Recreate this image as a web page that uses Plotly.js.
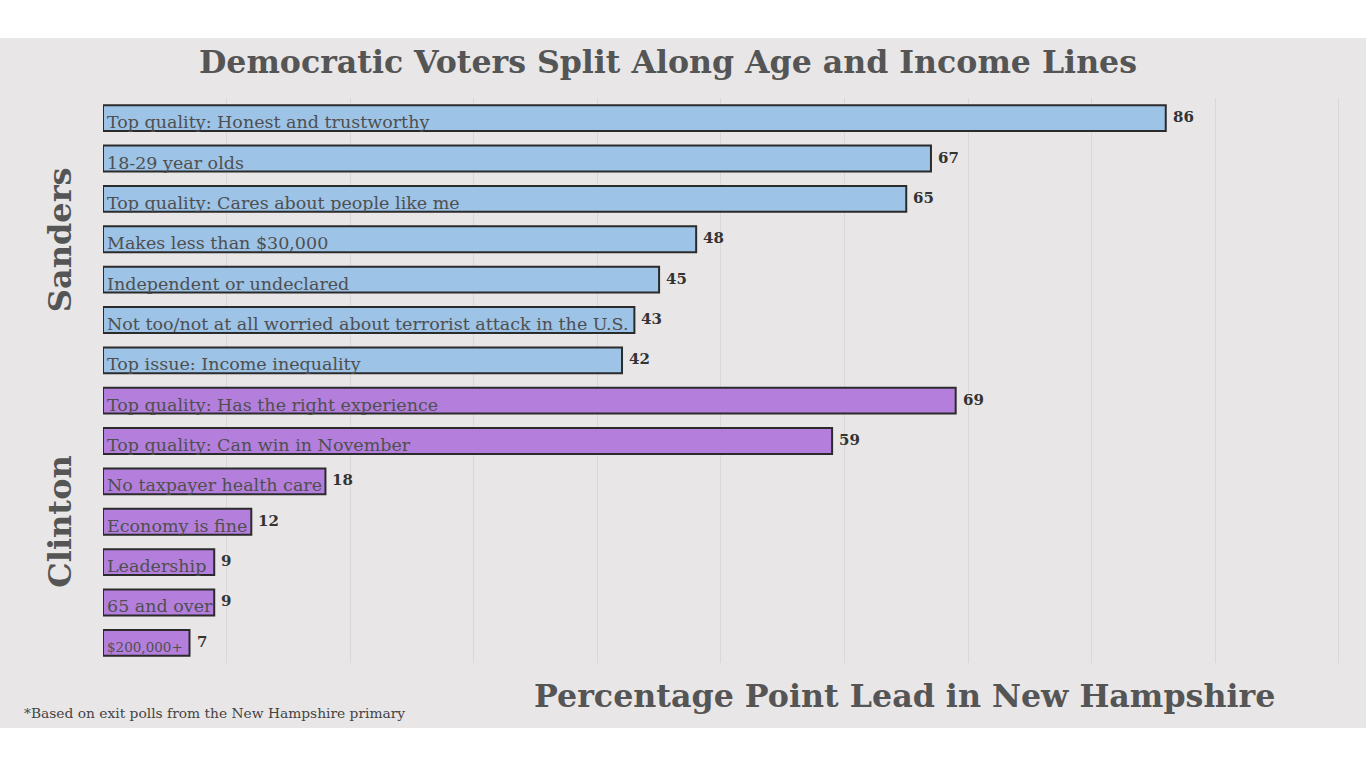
<!DOCTYPE html>
<html>
<head>
<meta charset="utf-8">
<script src="https://cdn.plot.ly/plotly-3.0.1.min.js"></script>
<style>
html,body{margin:0;padding:0;background:#ffffff;width:1366px;height:768px;overflow:hidden;}
#chart{position:absolute;left:0;top:38px;width:1366px;height:690px;}
</style>
</head>
<body>
<div id="chart"></div>
<script>
const categories = [
  "Top quality: Honest and trustworthy",
  "18-29 year olds",
  "Top quality: Cares about people like me",
  "Makes less than $30,000",
  "Independent or undeclared",
  "Not too/not at all worried about terrorist attack in the U.S.",
  "Top issue: Income inequality",
  "Top quality: Has the right experience",
  "Top quality: Can win in November",
  "No taxpayer health care",
  "Economy is fine",
  "Leadership",
  "65 and over",
  "$200,000+"
];
const leads = [86, 67, 65, 48, 45, 43, 42, 69, 59, 18, 12, 9, 9, 7];
const candidates = ["Sanders","Sanders","Sanders","Sanders","Sanders","Sanders","Sanders",
                    "Clinton","Clinton","Clinton","Clinton","Clinton","Clinton","Clinton"];
const candidateColors = {Sanders: "#9dc3e6", Clinton: "#b47fdc"};
const labelSizes = [17.5,17.5,17.5,17.5,17.5,17.5,17.5,17.5,17.5,17.5,17.5,17.5,17.5,13.5];

const serif = "DejaVu Serif, Georgia, serif";

const trace = {
  type: "bar",
  orientation: "h",
  y: categories,
  x: leads,
  width: 0.64,
  marker: {
    color: candidates.map(c => candidateColors[c]),
    line: {color: "#2b2b2b", width: 2}
  },
  hoverinfo: "x+y"
};

const annotations = [];
categories.forEach((cat, i) => {
  annotations.push({
    x: 0, y: cat, xref: "x", yref: "y",
    text: cat, showarrow: false, xanchor: "left", yanchor: "middle",
    xshift: 2, yshift: -4,
    font: {family: serif, size: labelSizes[i], color: "#4f4f4f"}
  });
  annotations.push({
    x: leads[i], y: cat, xref: "x", yref: "y",
    text: "<b>" + leads[i] + "</b>", showarrow: false, xanchor: "left", yanchor: "middle",
    xshift: 5, yshift: 1,
    font: {family: serif, size: 15, color: "#333333"}
  });
});
annotations.push({
  x: -0.0348, y: 0.75, xref: "paper", yref: "paper",
  text: "<b>Sanders</b>", textangle: -90, showarrow: false,
  xanchor: "center", yanchor: "middle",
  font: {family: serif, size: 32, color: "#555555"}
});
annotations.push({
  x: -0.0348, y: 0.25, xref: "paper", yref: "paper",
  text: "<b>Clinton</b>", textangle: -90, showarrow: false,
  xanchor: "center", yanchor: "middle",
  font: {family: serif, size: 32, color: "#555555"}
});
annotations.push({
  x: 0.648, y: -0.057, xref: "paper", yref: "paper",
  text: "<b>Percentage Point Lead in New Hampshire</b>", showarrow: false,
  xanchor: "center", yanchor: "middle",
  font: {family: serif, size: 31.7, color: "#555555"}
});
annotations.push({
  x: -0.0655, y: -0.0885, xref: "paper", yref: "paper",
  text: "*Based on exit polls from the New Hampshire primary", showarrow: false,
  xanchor: "left", yanchor: "middle",
  font: {family: serif, size: 13.8, color: "#444444"}
});

const layout = {
  width: 1366, height: 690,
  paper_bgcolor: "#e8e6e7",
  plot_bgcolor: "#e8e6e7",
  margin: {l: 103, r: 26, t: 60, b: 65},
  showlegend: false,
  title: {
    text: "<b>Democratic Voters Split Along Age and Income Lines</b>",
    x: 0.489, xanchor: "center", y: 0.965, yanchor: "middle", yref: "container",
    font: {family: serif, size: 31.6, color: "#555555"}
  },
  xaxis: {
    range: [0, 100.1], tick0: 0, dtick: 10, showticklabels: false, ticks: "",
    showgrid: true, gridcolor: "#d9d7d8", gridwidth: 1,
    zeroline: false, showline: false, fixedrange: true
  },
  yaxis: {
    type: "category", autorange: "reversed", showticklabels: false, ticks: "",
    showgrid: false, zeroline: false, showline: false, fixedrange: true
  },
  annotations: annotations
};

Plotly.newPlot("chart", [trace], layout, {displayModeBar: false, staticPlot: true});
</script>
</body>
</html>
